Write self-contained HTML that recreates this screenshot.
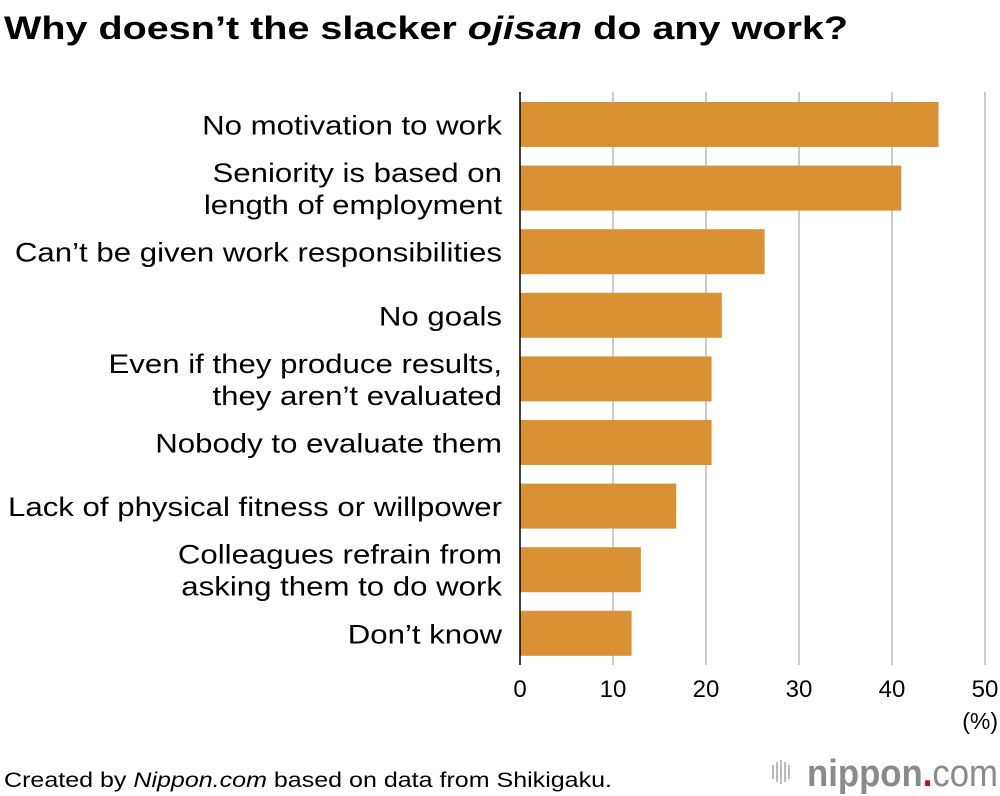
<!DOCTYPE html>
<html><head><meta charset="utf-8"><style>
body{margin:0;background:#fff;font-family:"Liberation Sans",sans-serif;}
#wrap{position:relative;width:1000px;height:796px;overflow:hidden;}
</style></head><body>
<div id="wrap">
<svg id="chart" width="1000" height="796">
<text x="4" y="39" font-size="32" font-weight="bold" fill="#000" textLength="844" lengthAdjust="spacingAndGlyphs">Why doesn’t the slacker <tspan font-style="italic">ojisan</tspan> do any work?</text>
<g id="grid"></g><g id="bars"></g><g id="labels"></g><g id="ticks"></g>
<line x1="520" y1="92" x2="520" y2="665" stroke="#000" stroke-width="1.5"/>
<text x="998" y="729" font-size="23" text-anchor="end">(%)</text>
<text x="4" y="787" font-size="21" textLength="608" lengthAdjust="spacingAndGlyphs">Created by <tspan font-style="italic">Nippon.com</tspan> based on data from Shikigaku.</text>
<g>
<g fill="#bbb"><rect x="772" y="765" width="2" height="14"/><rect x="776" y="762" width="2" height="20"/><rect x="780" y="760" width="2" height="24"/><rect x="784" y="762" width="2" height="20"/><rect x="788" y="765" width="2" height="14"/></g>
<text x="807" y="786" font-size="38" fill="#8a8a8a" font-weight="bold" textLength="191" lengthAdjust="spacingAndGlyphs">nippon<tspan fill="#e60012">.</tspan><tspan font-weight="normal">com</tspan></text>
</g>
</svg>
<script>
const categories=[["No motivation to work"],["Seniority is based on","length of employment"],["Can’t be given work responsibilities"],["No goals"],["Even if they produce results,","they aren’t evaluated"],["Nobody to evaluate them"],["Lack of physical fitness or willpower"],["Colleagues refrain from","asking them to do work"],["Don’t know"]];
const values=[45,41,26.3,21.7,20.6,20.6,16.8,13.0,12.0];
const tickValues=[0,10,20,30,40,50];
const tickLabels=["0","10","20","30","40","50"];
const NS="http://www.w3.org/2000/svg";
const x0=520,x1=985,vmax=50;
const xs=v=>x0+(v/vmax)*(x1-x0);
const yTop=102,pitch=63.6,bh=45;
const ys=i=>yTop+i*pitch;
function mk(t,a,p){const e=document.createElementNS(NS,t);for(const k in a)e.setAttribute(k,a[k]);p.appendChild(e);return e;}
const grid=document.getElementById('grid'),bars=document.getElementById('bars'),labels=document.getElementById('labels'),ticks=document.getElementById('ticks');
tickValues.forEach((v,i)=>{
 if(v>0){const l=mk('line',{x1:xs(v),x2:xs(v),y1:92,y2:665,stroke:'#ccc','stroke-width':2},grid);
 
 }
 const t=mk('text',{x:xs(v),y:697,'font-size':24,'text-anchor':'middle'},ticks);
 t.textContent=tickLabels[i];
 
 
});
values.forEach((v,i)=>{
 const r=mk('rect',{x:x0,y:ys(i),width:xs(v)-x0,height:bh,fill:'#d99134'},bars);
 
 
 const lines=categories[i];
 const cy=ys(i)+bh/2;
 lines.forEach((s,j)=>{
  const t=mk('text',{x:502,y:cy+10+(j-(lines.length-1)/2)*32,'font-size':27,'text-anchor':'end'},labels);
  
  
  t.textContent=s;
  const len=t.getComputedTextLength();
  t.setAttribute('textLength',len*1.155);
  t.setAttribute('lengthAdjust','spacingAndGlyphs');
 });
});
</script>
</div>
</body></html>
